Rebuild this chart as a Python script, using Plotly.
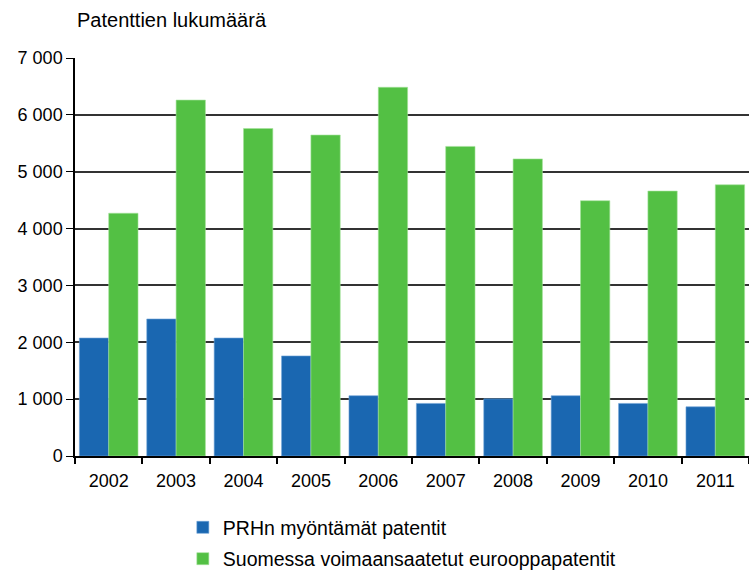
import plotly.graph_objects as go

years = ["2002", "2003", "2004", "2005", "2006", "2007", "2008", "2009", "2010", "2011"]
prh = [2075, 2410, 2075, 1760, 1060, 925, 1005, 1060, 925, 865]
euro = [4270, 6260, 5760, 5645, 6485, 5445, 5225, 4490, 4660, 4770]
series_names = ["PRHn myöntämät patentit", "Suomessa voimaansaatetut eurooppapatentit"]
y_ticks = [0, 1000, 2000, 3000, 4000, 5000, 6000, 7000]
y_ticktext = ["0", "1 000", "2 000", "3 000", "4 000", "5 000", "6 000", "7 000"]
y_title = "Patenttien lukumäärä"

FONT = "Liberation Sans, Arial, sans-serif"

fig = go.Figure()
fig.add_trace(go.Bar(x=years, y=prh, name=series_names[0], legendgroup="a",
                     marker=dict(color="#1A67B1", line=dict(color="#6FA3D6", width=0.6))))
fig.add_trace(go.Bar(x=years, y=euro, name=series_names[1], legendgroup="b",
                     marker=dict(color="#53C044", line=dict(color="#A5E29A", width=0.6))))

fig.update_layout(
    width=749, height=573,
    margin=dict(l=75, r=0, t=58, b=117, autoexpand=False),
    paper_bgcolor="white", plot_bgcolor="white",
    barmode="group", bargap=0.13, bargroupgap=0,
    font=dict(family=FONT, size=18, color="#000000"),
    showlegend=True,
    legend=dict(orientation="v", x=0.16, xanchor="left", y=-0.131, yanchor="top",
                traceorder="grouped", tracegroupgap=3, font=dict(size=19.5, color="#000000"),
                itemwidth=30, bgcolor="rgba(0,0,0,0)"),
    xaxis=dict(type="category", showgrid=False, showline=True, linecolor="#000000", linewidth=1.5,
               ticks="outside", tickson="boundaries", ticklen=6, tickcolor="#000000", tickwidth=1.5,
               tickfont=dict(size=18), range=[-0.5, 9.5], automargin=False, ticklabelstandoff=8),
    yaxis=dict(range=[0, 7000], tickvals=y_ticks, ticktext=y_ticktext, showgrid=True,
               gridcolor="#333333", gridwidth=1.5, showline=True, linecolor="#000000", linewidth=1.5,
               ticks="outside", ticklen=7, tickcolor="#000000", tickwidth=1.4, zeroline=False,
               tickfont=dict(size=18), automargin=False),
    annotations=[dict(text=y_title, xref="paper", yref="paper", x=0.0, y=1.095,
                      xanchor="left", yanchor="middle", showarrow=False,
                      font=dict(size=20, color="#000000"))],
)

fig.write_html("out.html", config={"displayModeBar": False},
               post_script="document.body.style.margin='0';document.body.style.padding='0';")
